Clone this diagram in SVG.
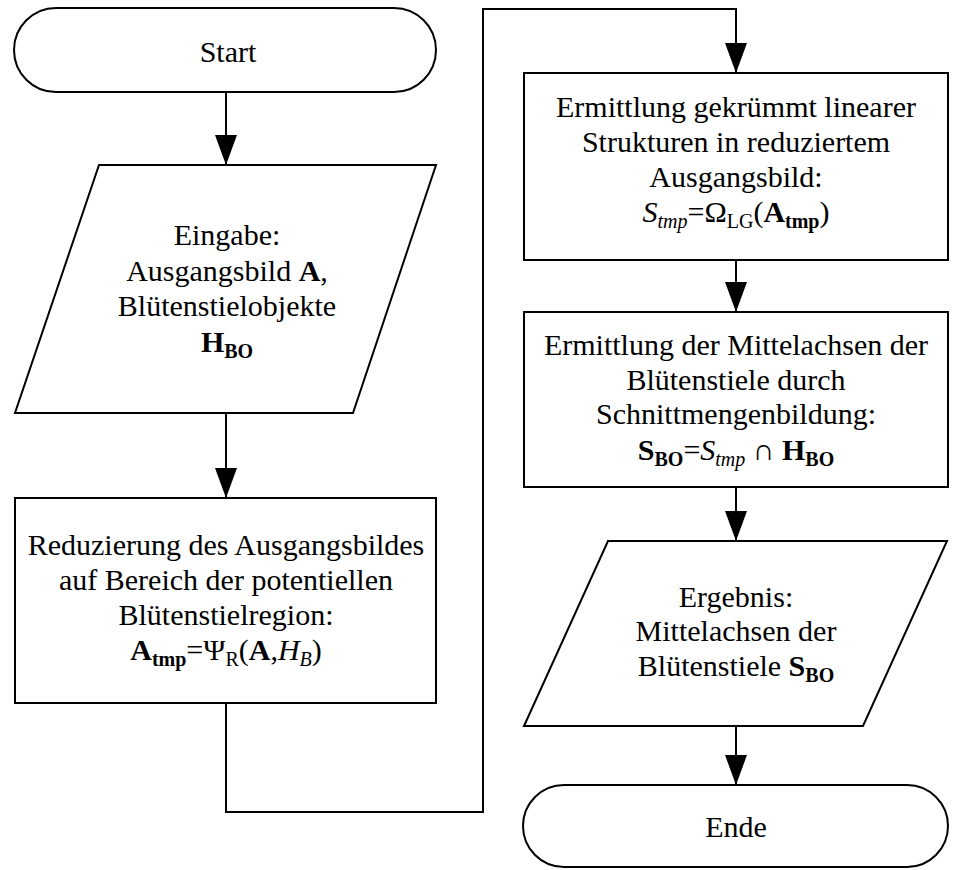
<svg xmlns="http://www.w3.org/2000/svg" width="957" height="870" viewBox="0 0 957 870">
<defs>
<style>
.shape{fill:#fff;stroke:#000;stroke-width:2}
.conn{fill:none;stroke:#000;stroke-width:2}
text{font-family:"Liberation Serif","Times New Roman",serif;font-size:30px;fill:#000;text-anchor:middle}
.b{font-weight:bold}
.i{font-style:italic}
.sub{font-size:20px}
</style>
<marker id="arr" markerUnits="userSpaceOnUse" markerWidth="30" markerHeight="22" refX="30" refY="11" orient="auto">
<path d="M0,0 L30,11 L0,22 Z" fill="#000"/>
</marker>
</defs>
<rect width="957" height="870" fill="#fff"/>

<g id="connectors">
<path class="conn" d="M226,92 V165" marker-end="url(#arr)"/>
<path class="conn" d="M226,413 V498" marker-end="url(#arr)"/>
<path class="conn" d="M226,703 V812 H483 V9 H736 V73" marker-end="url(#arr)"/>
<path class="conn" d="M736,260 V312" marker-end="url(#arr)"/>
<path class="conn" d="M736,487 V541" marker-end="url(#arr)"/>
<path class="conn" d="M736,726 V785" marker-end="url(#arr)"/>
</g>

<g id="start">
<rect class="shape" x="14" y="8" width="422" height="84" rx="42" ry="42"/>
<text x="228" y="62">Start</text>
</g>

<g id="eingabe">
<polygon class="shape" points="99,165 436,165 353,413 15,413"/>
<text x="227" y="245">Eingabe:</text>
<text x="227" y="281">Ausgangsbild <tspan class="b">A</tspan>,</text>
<text x="227" y="316">Blütenstielobjekte</text>
<text x="227" y="352"><tspan class="b">H</tspan><tspan class="b sub" dy="6">BO</tspan></text>
</g>

<g id="reduzierung">
<rect class="shape" x="15" y="498" width="421" height="205"/>
<text x="226" y="555">Reduzierung des Ausgangsbildes</text>
<text x="226" y="590">auf Bereich der potentiellen</text>
<text x="226" y="625">Blütenstielregion:</text>
<text x="226" y="660"><tspan class="b">A</tspan><tspan class="b sub" dy="6">tmp</tspan><tspan dy="-6">=Ψ</tspan><tspan class="sub" dy="6">R</tspan><tspan dy="-6">(</tspan><tspan class="b">A</tspan>,<tspan class="i">H</tspan><tspan class="i sub" dy="6">B</tspan><tspan dy="-6">)</tspan></text>
</g>

<g id="ermittlung-strukturen">
<rect class="shape" x="524" y="73" width="424" height="187"/>
<text x="736" y="117">Ermittlung gekrümmt linearer</text>
<text x="736" y="152">Strukturen in reduziertem</text>
<text x="736" y="187">Ausgangsbild:</text>
<text x="736" y="222"><tspan class="i">S</tspan><tspan class="i sub" dy="6">tmp</tspan><tspan dy="-6">=Ω</tspan><tspan class="sub" dy="6">LG</tspan><tspan dy="-6">(</tspan><tspan class="b">A</tspan><tspan class="b sub" dy="6">tmp</tspan><tspan dy="-6">)</tspan></text>
</g>

<g id="ermittlung-mittelachsen">
<rect class="shape" x="524" y="312" width="424" height="175"/>
<text x="736" y="355">Ermittlung der Mittelachsen der</text>
<text x="736" y="390">Blütenstiele durch</text>
<text x="736" y="424">Schnittmengenbildung:</text>
<text x="736" y="460"><tspan class="b">S</tspan><tspan class="b sub" dy="6">BO</tspan><tspan dy="-6">=</tspan><tspan class="i">S</tspan><tspan class="i sub" dy="6">tmp</tspan><tspan dy="-6"> ∩ </tspan><tspan class="b">H</tspan><tspan class="b sub" dy="6">BO</tspan></text>
</g>

<g id="ergebnis">
<polygon class="shape" points="608,541 947,541 863,726 524,726"/>
<text x="736" y="607">Ergebnis:</text>
<text x="736" y="641">Mittelachsen der</text>
<text x="736" y="676">Blütenstiele <tspan class="b">S</tspan><tspan class="b sub" dy="6">BO</tspan></text>
</g>

<g id="ende">
<rect class="shape" x="523" y="785" width="425" height="82" rx="41" ry="41"/>
<text x="736" y="837">Ende</text>
</g>
</svg>
